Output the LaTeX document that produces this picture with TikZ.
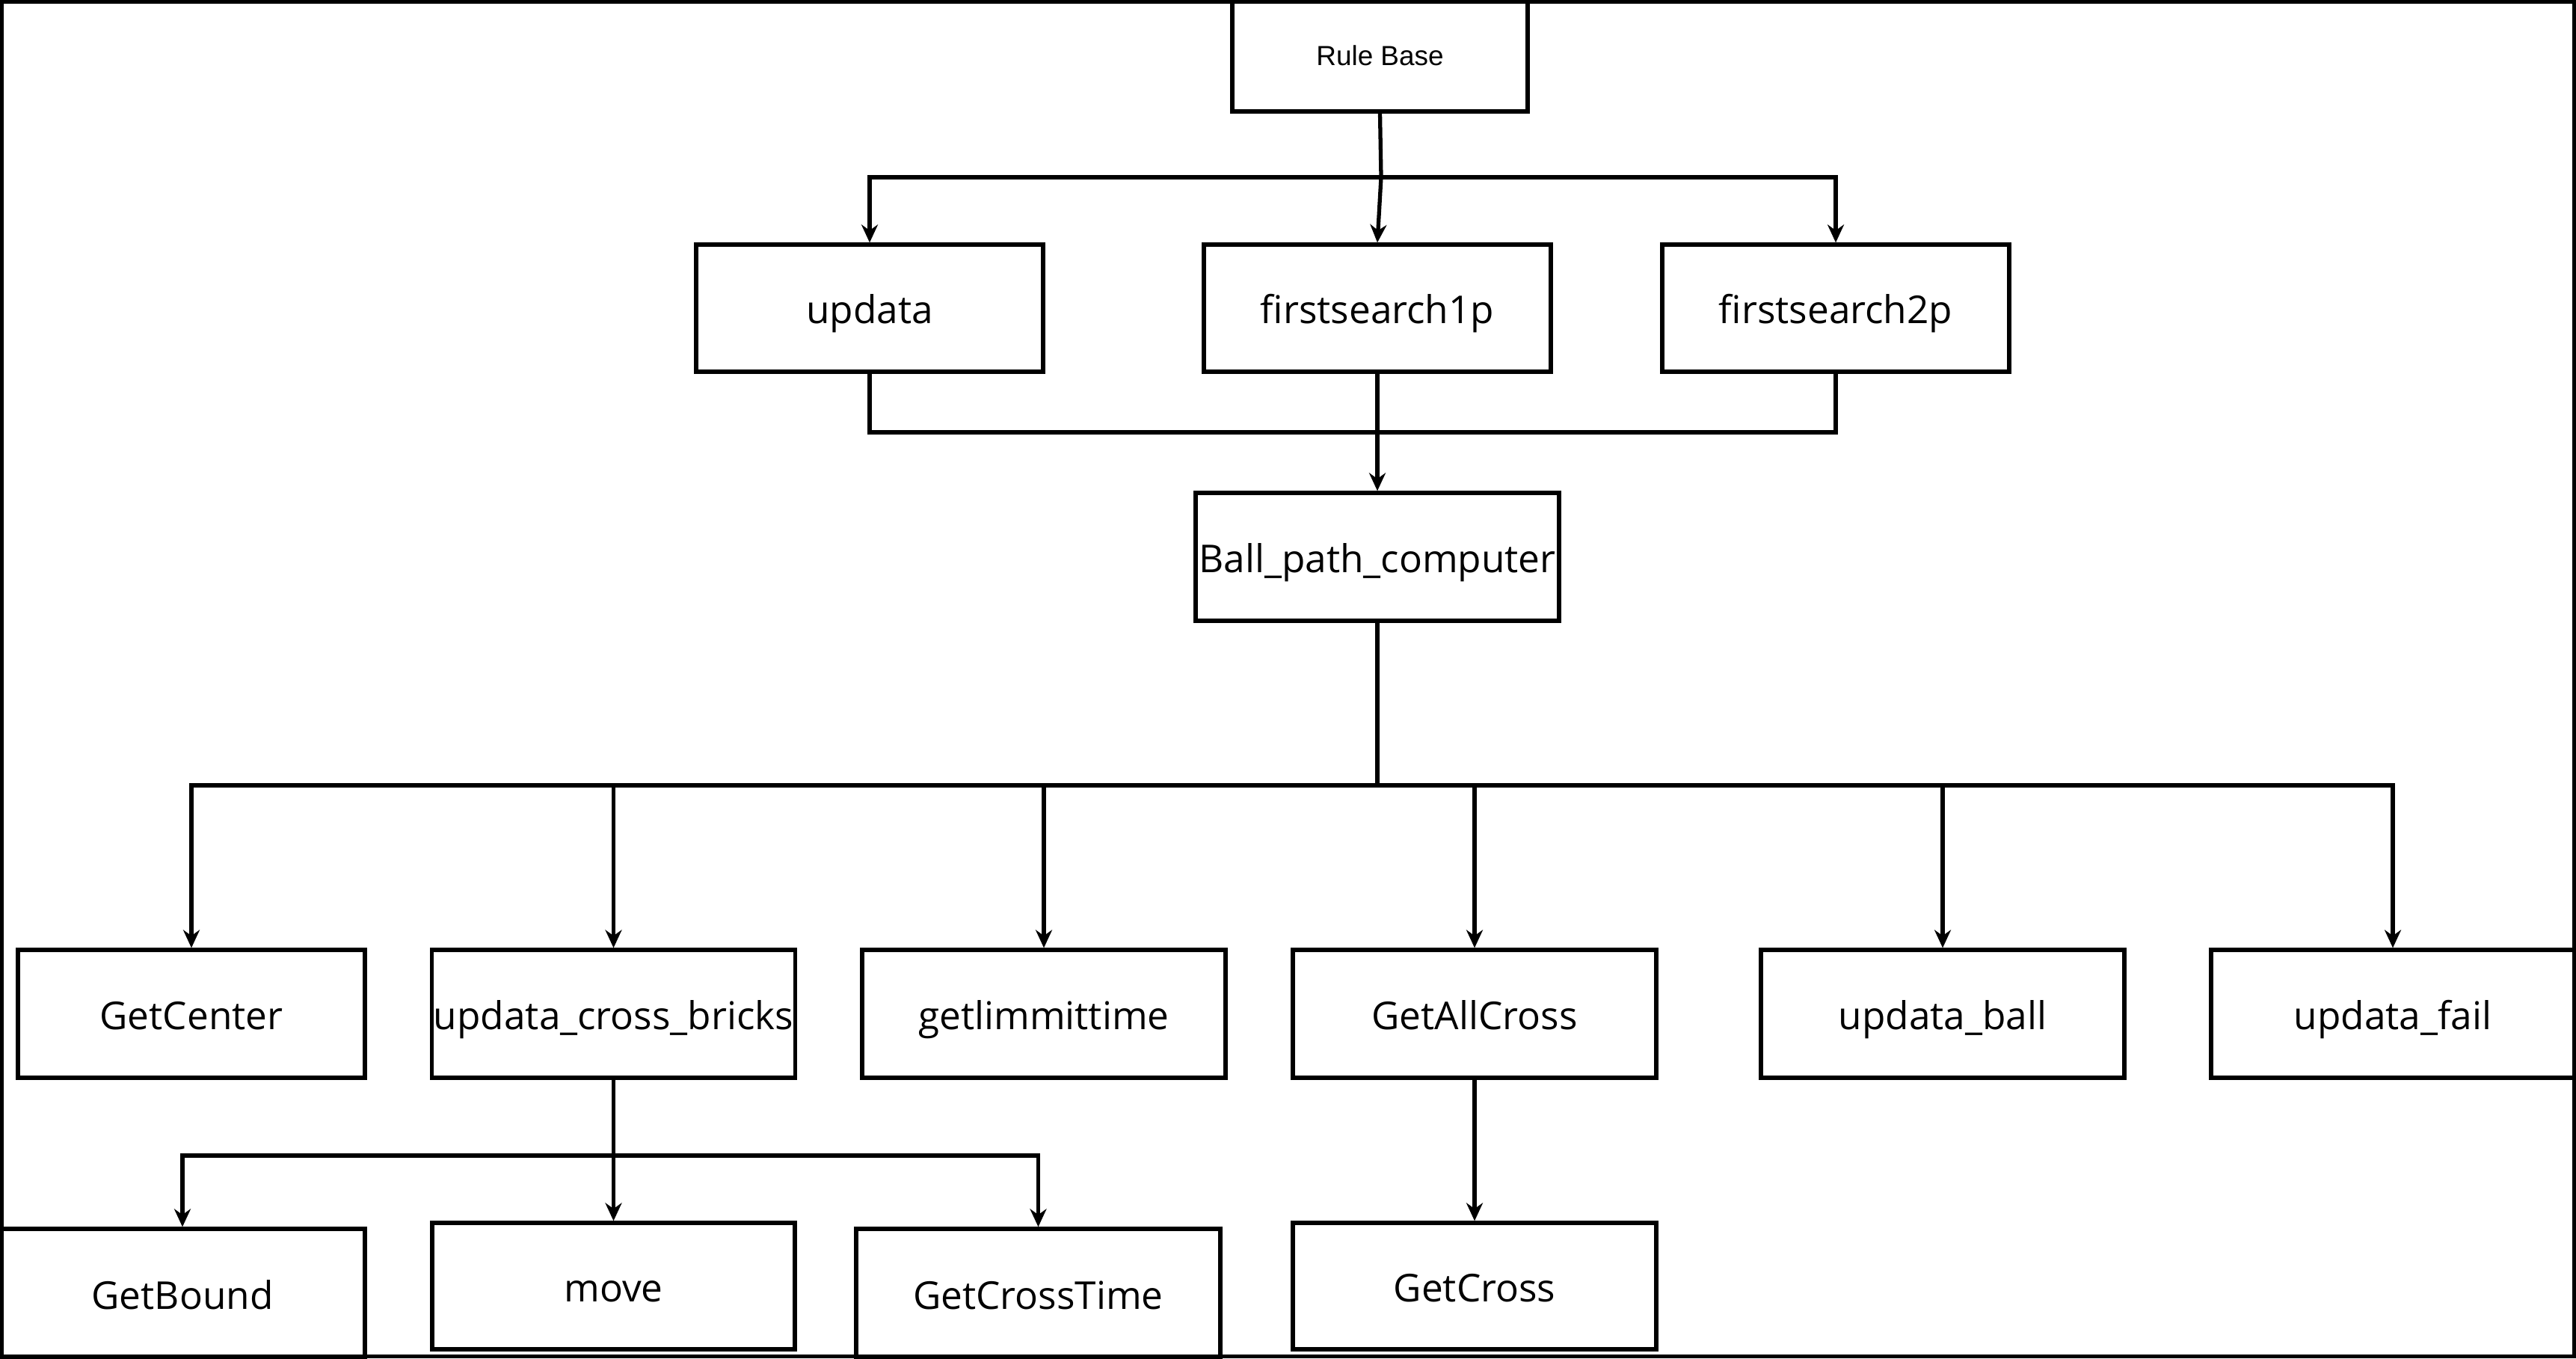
\documentclass[tikz,border=0pt]{standalone}
\usepackage{fontspec}
\setmainfont{Open Sans}
\newfontfamily\rulefont{Liberation Sans}
\usetikzlibrary{arrows.meta, positioning, calc}

\begin{document}
\begin{tikzpicture}[>={Stealth[length=0.24cm, width=0.22cm]},
  fnbox/.style={draw, line width=1.5pt, inner sep=0pt, minimum width=4.86cm,
    minimum height=1.71cm, text height=0.62cm, text depth=0.2cm,
    font=\fontsize{14.6}{17}\selectfont},
  link/.style={line width=1.5pt}]
  \useasboundingbox (0,0) rectangle (34.45,18.16);
  \draw[line width=1.5pt] (0.025,0.025) rectangle (34.425,18.135);

  % rule base and its three entry points
  \node[fnbox, minimum width=3.95cm, minimum height=1.49cm, text height=0.36cm, text depth=0.1cm,
    font=\rulefont\fontsize{10.5}{12}\selectfont] (rulebase) at (18.455,17.415) {Rule Base};
  \foreach \name/\x/\txt in {updata/11.63/updata, first1/18.42/firstsearch1p, first2/24.55/firstsearch2p}
    \node[fnbox, minimum width=4.64cm, minimum height=1.70cm] (\name) at (\x,14.04) {\txt};
  \node[fnbox] (ballpath) at (18.42,10.715) {Ball\_path\_computer};

  % functions called by the path computer
  \foreach \name/\x/\w/\txt in {
    center/2.56/4.64/GetCenter,
    crossbricks/8.205/4.86/updata\_cross\_bricks,
    limit/13.96/4.86/getlimmittime,
    allcross/19.72/4.86/GetAllCross,
    ball/25.98/4.86/updata\_ball,
    fail/32.0/4.86/updata\_fail}
    \node[fnbox, minimum width=\w cm] (\name) at (\x,4.605) {\txt};

  % lowest level
  \node[fnbox, minimum width=4.88cm, minimum height=1.73cm] (bound) at (2.44,0.865) {GetBound};
  \node[fnbox, minimum width=4.85cm, minimum height=1.69cm] (move) at (8.205,0.965) {move};
  \node[fnbox, minimum width=4.87cm, minimum height=1.73cm] (crosstime) at (13.885,0.865) {GetCrossTime};
  \node[fnbox, minimum width=4.86cm, minimum height=1.69cm] (cross) at (19.72,0.965) {GetCross};

  % connectors
  \coordinate (topbus) at (18.47,15.79);
  \draw[link] (rulebase.south) -- (topbus);
  \draw[link, ->] (topbus) -| (updata.north);
  \draw[link, ->] (topbus) -| (first2.north);
  \draw[link, ->] (topbus) -- (first1.north);

  \coordinate (midbus) at (18.42,12.38);
  \draw[link] (updata.south) |- (midbus) -| (first2.south);
  \draw[link, ->] (first1.south) -- (ballpath.north);

  \coordinate (callbus) at (18.42,7.66);
  \draw[link] (ballpath.south) -- (callbus);
  \foreach \n in {center, crossbricks, limit, allcross, ball, fail}
    \draw[link, ->] (callbus) -| (\n.north);

  \coordinate (brickbus) at (8.205,2.71);
  \draw[link] (crossbricks.south) -- (brickbus);
  \foreach \n in {bound, move, crosstime}
    \draw[link, ->] (brickbus) -| (\n.north);
  \draw[link, ->] (allcross.south) -- (cross.north);
\end{tikzpicture}
\end{document}
